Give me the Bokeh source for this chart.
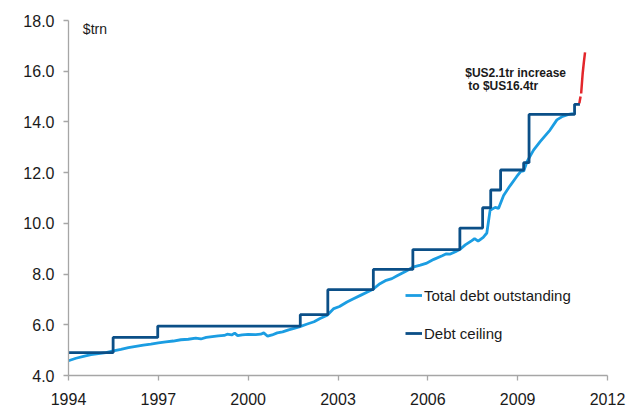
from bokeh.plotting import figure
from bokeh.models import Range1d, FixedTicker, Legend, LegendItem, Label
from bokeh.embed import file_html
from bokeh.resources import INLINE

# ---- data ----
debt_years = [1994.00, 1994.25, 1994.50, 1994.75, 1995.00, 1995.25, 1995.50, 1995.75,
              1996.00, 1996.25, 1996.50, 1996.75, 1997.00, 1997.25, 1997.50, 1997.75,
              1998.00, 1998.25, 1998.42, 1998.60, 1998.80, 1999.00, 1999.20, 1999.30,
              1999.45, 1999.55, 1999.65, 1999.80, 2000.00, 2000.25, 2000.42, 2000.52,
              2000.65, 2000.80, 2000.97, 2001.15, 2001.35, 2001.53, 2001.73, 2001.95,
              2002.20, 2002.40, 2002.64, 2002.86, 2003.05, 2003.30, 2003.50, 2003.75,
              2004.00, 2004.18, 2004.40, 2004.58, 2004.80, 2004.99, 2005.25, 2005.50,
              2005.75, 2005.94, 2006.20, 2006.48, 2006.62, 2006.75, 2006.92, 2007.09,
              2007.25, 2007.47, 2007.56, 2007.68, 2007.85, 2007.97, 2008.08, 2008.25,
              2008.36, 2008.53, 2008.75, 2008.97, 2009.14, 2009.20, 2009.31, 2009.53,
              2009.75, 2010.08, 2010.31, 2010.50, 2010.70, 2010.85]
debt_values = [4.58, 4.68, 4.75, 4.82, 4.86, 4.90, 4.97, 5.03,
               5.10, 5.15, 5.20, 5.24, 5.29, 5.33, 5.36, 5.41,
               5.43, 5.47, 5.44, 5.50, 5.53, 5.56, 5.58, 5.63,
               5.60, 5.67, 5.57, 5.60, 5.62, 5.61, 5.63, 5.68,
               5.55, 5.60, 5.68, 5.72, 5.80, 5.86, 5.93, 6.02,
               6.12, 6.25, 6.38, 6.64, 6.72, 6.90, 7.02, 7.16,
               7.30, 7.41, 7.62, 7.74, 7.82, 7.94, 8.10, 8.27,
               8.35, 8.42, 8.58, 8.72, 8.80, 8.79, 8.88, 8.99,
               9.15, 9.32, 9.40, 9.30, 9.45, 9.62, 10.52, 10.63,
               10.59, 11.10, 11.49, 11.85, 12.10, 12.05, 12.43, 12.89,
               13.22, 13.68, 14.08, 14.22, 14.30, 14.33]

ceiling_years = [1994.00, 1995.49, 1996.98, 2001.74, 2002.66, 2004.18, 2005.50,
                 2007.07, 2007.83, 2008.10, 2008.43, 2009.20, 2009.38, 2010.90, 2011.08]
ceiling_values = [4.9, 5.5, 5.95, 6.4, 7.384, 8.184, 8.965,
                  9.815, 10.615, 11.315, 12.104, 12.394, 14.294, 14.694, 14.694]

increase_years = [2011.06, 2011.10, 2011.12, 2011.17, 2011.21, 2011.25]
increase_values = [14.74, 15.00, 15.12, 15.90, 16.35, 16.74]

x_ticks = [1994, 1997, 2000, 2003, 2006, 2009, 2012]
y_ticks = [4, 6, 8, 10, 12, 14, 16, 18]
y_tick_labels = ["4.0", "6.0", "8.0", "10.0", "12.0", "14.0", "16.0", "18.0"]

FONT = "Liberation Sans"
AXIS_GREY = "#a6a6a6"
TEXT = "#1a1a1a"

p = figure(width=634, height=407, output_backend="svg", toolbar_location=None,
           x_range=Range1d(1994, 2012), y_range=Range1d(4, 18),
           min_border_left=68, min_border_right=27, min_border_top=20,
           min_border_bottom=32)
p.outline_line_color = None
p.xgrid.visible = False
p.ygrid.visible = False
p.background_fill_color = "white"
p.border_fill_color = "white"

r_debt = p.line(debt_years, debt_values, line_color="#1b9de2", line_width=2.8)
r_ceiling = p.step(ceiling_years, ceiling_values, mode="after",
                   line_color="#0b4f87", line_width=2.8)
p.line(increase_years[:2], increase_values[:2], line_color="#e3262b", line_width=2.5)
p.line(increase_years[2:], increase_values[2:], line_color="#e3262b", line_width=2.5)

for ax in (p.xaxis[0], p.yaxis[0]):
    ax.axis_line_color = AXIS_GREY
    ax.axis_line_width = 1.3
    ax.major_tick_line_color = AXIS_GREY
    ax.major_tick_line_width = 1.3
    ax.major_tick_in = 0
    ax.major_tick_out = 5
    ax.minor_tick_line_color = None
    ax.major_label_text_font = FONT
    ax.major_label_text_font_size = "16px"
    ax.major_label_text_color = TEXT
    ax.major_label_standoff = 9
p.xaxis[0].major_label_standoff = 12

p.xaxis.ticker = FixedTicker(ticks=x_ticks)
p.yaxis.ticker = FixedTicker(ticks=y_ticks)
p.yaxis.major_label_overrides = {t: l for t, l in zip(y_ticks, y_tick_labels)}

legend = Legend(items=[LegendItem(label="Total debt outstanding", renderers=[r_debt]),
                       LegendItem(label="Debt ceiling", renderers=[r_ceiling])],
                location=(337, 32))
legend.border_line_color = None
legend.background_fill_alpha = 0
legend.padding = 0
legend.margin = 0
legend.spacing = 18
legend.glyph_width = 17
legend.glyph_height = 20
legend.label_standoff = 2
legend.label_text_font = FONT
legend.label_text_font_size = "15px"
legend.label_text_color = TEXT
p.add_layout(legend, "center")

p.add_layout(Label(x=1994.48, y=17.68, text="$trn", text_font=FONT,
                   text_font_size="14px", text_color=TEXT, text_baseline="middle"))
p.add_layout(Label(x=2007.25, y=15.91, text="$US2.1tr increase", text_font=FONT,
                   text_font_size="12px", text_font_style="bold", text_color=TEXT,
                   text_baseline="middle"))
p.add_layout(Label(x=2007.25, y=15.40, x_offset=3, text="to $US16.4tr", text_font=FONT,
                   text_font_size="12px", text_font_style="bold", text_color=TEXT,
                   text_baseline="middle"))

open("out.html", "w").write(file_html(p, INLINE))
